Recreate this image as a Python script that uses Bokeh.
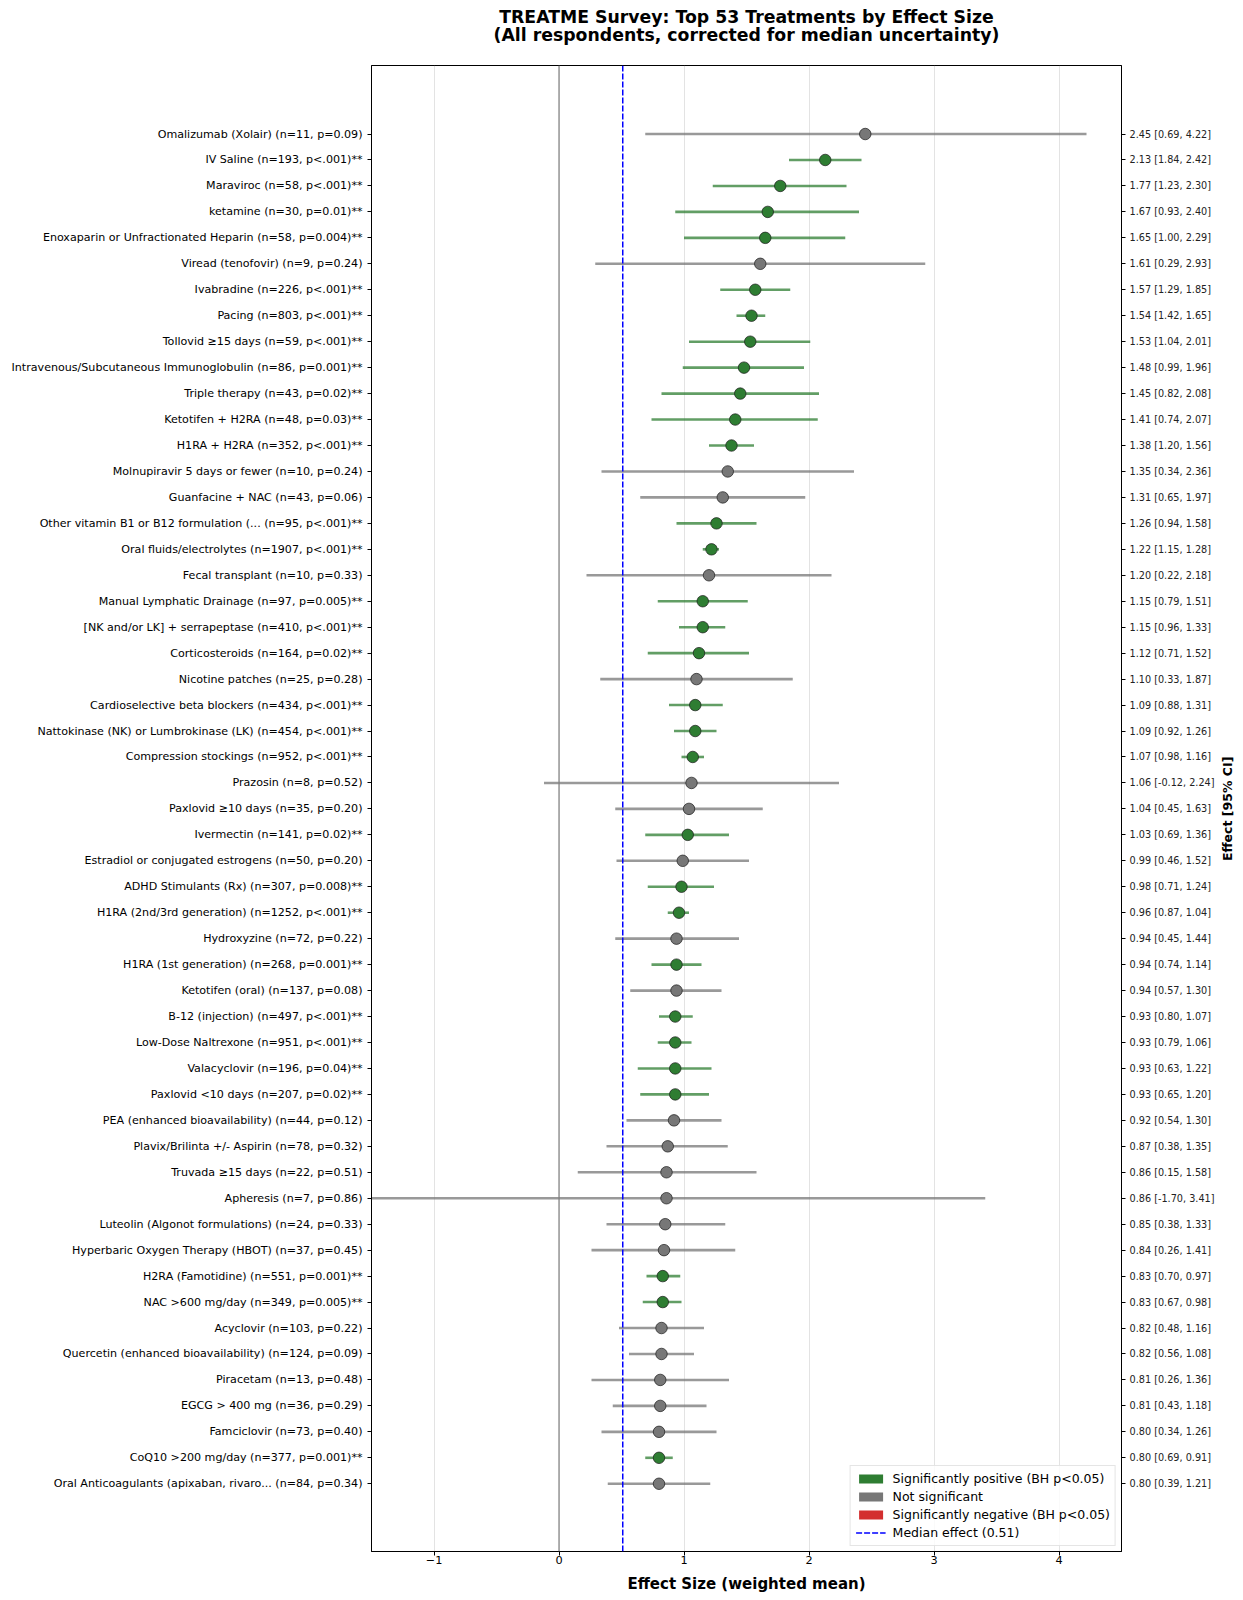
import math
from bokeh.plotting import figure
from bokeh.models import (Range1d, FixedTicker, LinearAxis, Span, Legend,
                          LegendItem, ColumnDataSource)
from bokeh.embed import file_html
from bokeh.resources import INLINE

# ---------------- data ----------------
treatments = [
    "Omalizumab (Xolair) (n=11, p=0.09)",
    "IV Saline (n=193, p<.001)**",
    "Maraviroc (n=58, p<.001)**",
    "ketamine (n=30, p=0.01)**",
    "Enoxaparin or Unfractionated Heparin (n=58, p=0.004)**",
    "Viread (tenofovir) (n=9, p=0.24)",
    "Ivabradine (n=226, p<.001)**",
    "Pacing (n=803, p<.001)**",
    "Tollovid \u226515 days (n=59, p<.001)**",
    "Intravenous/Subcutaneous Immunoglobulin (n=86, p=0.001)**",
    "Triple therapy (n=43, p=0.02)**",
    "Ketotifen + H2RA (n=48, p=0.03)**",
    "H1RA + H2RA (n=352, p<.001)**",
    "Molnupiravir 5 days or fewer (n=10, p=0.24)",
    "Guanfacine + NAC (n=43, p=0.06)",
    "Other vitamin B1 or B12 formulation (... (n=95, p<.001)**",
    "Oral fluids/electrolytes (n=1907, p<.001)**",
    "Fecal transplant (n=10, p=0.33)",
    "Manual Lymphatic Drainage (n=97, p=0.005)**",
    "[NK and/or LK] + serrapeptase (n=410, p<.001)**",
    "Corticosteroids (n=164, p=0.02)**",
    "Nicotine patches (n=25, p=0.28)",
    "Cardioselective beta blockers (n=434, p<.001)**",
    "Nattokinase (NK) or Lumbrokinase (LK) (n=454, p<.001)**",
    "Compression stockings (n=952, p<.001)**",
    "Prazosin (n=8, p=0.52)",
    "Paxlovid \u226510 days (n=35, p=0.20)",
    "Ivermectin (n=141, p=0.02)**",
    "Estradiol or conjugated estrogens (n=50, p=0.20)",
    "ADHD Stimulants (Rx) (n=307, p=0.008)**",
    "H1RA (2nd/3rd generation) (n=1252, p<.001)**",
    "Hydroxyzine (n=72, p=0.22)",
    "H1RA (1st generation) (n=268, p=0.001)**",
    "Ketotifen (oral) (n=137, p=0.08)",
    "B-12 (injection) (n=497, p<.001)**",
    "Low-Dose Naltrexone (n=951, p<.001)**",
    "Valacyclovir (n=196, p=0.04)**",
    "Paxlovid <10 days (n=207, p=0.02)**",
    "PEA (enhanced bioavailability) (n=44, p=0.12)",
    "Plavix/Brilinta +/- Aspirin (n=78, p=0.32)",
    "Truvada \u226515 days (n=22, p=0.51)",
    "Apheresis (n=7, p=0.86)",
    "Luteolin (Algonot formulations) (n=24, p=0.33)",
    "Hyperbaric Oxygen Therapy (HBOT) (n=37, p=0.45)",
    "H2RA (Famotidine) (n=551, p=0.001)**",
    "NAC >600 mg/day (n=349, p=0.005)**",
    "Acyclovir (n=103, p=0.22)",
    "Quercetin (enhanced bioavailability) (n=124, p=0.09)",
    "Piracetam (n=13, p=0.48)",
    "EGCG > 400 mg (n=36, p=0.29)",
    "Famciclovir (n=73, p=0.40)",
    "CoQ10 >200 mg/day (n=377, p=0.001)**",
    "Oral Anticoagulants (apixaban, rivaro... (n=84, p=0.34)",
]
effects = [2.45, 2.13, 1.77, 1.67, 1.65, 1.61, 1.57, 1.54, 1.53, 1.48, 1.45, 1.41,
           1.38, 1.35, 1.31, 1.26, 1.22, 1.20, 1.15, 1.15, 1.12, 1.10, 1.09, 1.09,
           1.07, 1.06, 1.04, 1.03, 0.99, 0.98, 0.96, 0.94, 0.94, 0.94, 0.93, 0.93,
           0.93, 0.93, 0.92, 0.87, 0.86, 0.86, 0.85, 0.84, 0.83, 0.83, 0.82, 0.82,
           0.81, 0.81, 0.80, 0.80, 0.80]
ci_low = [0.69, 1.84, 1.23, 0.93, 1.00, 0.29, 1.29, 1.42, 1.04, 0.99, 0.82, 0.74,
          1.20, 0.34, 0.65, 0.94, 1.15, 0.22, 0.79, 0.96, 0.71, 0.33, 0.88, 0.92,
          0.98, -0.12, 0.45, 0.69, 0.46, 0.71, 0.87, 0.45, 0.74, 0.57, 0.80, 0.79,
          0.63, 0.65, 0.54, 0.38, 0.15, -1.70, 0.38, 0.26, 0.70, 0.67, 0.48, 0.56,
          0.26, 0.43, 0.34, 0.69, 0.39]
ci_high = [4.22, 2.42, 2.30, 2.40, 2.29, 2.93, 1.85, 1.65, 2.01, 1.96, 2.08, 2.07,
           1.56, 2.36, 1.97, 1.58, 1.28, 2.18, 1.51, 1.33, 1.52, 1.87, 1.31, 1.26,
           1.16, 2.24, 1.63, 1.36, 1.52, 1.24, 1.04, 1.44, 1.14, 1.30, 1.07, 1.06,
           1.22, 1.20, 1.30, 1.35, 1.58, 3.41, 1.33, 1.41, 0.97, 0.98, 1.16, 1.08,
           1.36, 1.18, 1.26, 0.91, 1.21]
status = ["pos" if t.endswith("**") else "ns" for t in treatments]
median_effect = 0.51
zero_effect = 0
x_ticks = [-1, 0, 1, 2, 3, 4]
title_lines = ["TREATME Survey: Top 53 Treatments by Effect Size",
               "(All respondents, corrected for median uncertainty)"]
right_title = "Effect [95% CI]"

# ---------------- styling ----------------
FONT = "DejaVu Sans"
dot_colors = {"pos": "#2e7d32", "ns": "#777777", "neg": "#d32f2f"}
MEDIAN_DASH = "6 2"
X_START, X_END = -1.5, 4.5
FRAME_W, FRAME_H = 750, 1486

n = len(treatments)
ypos = [n - 1 - i for i in range(n)]
right_labels = [f"{e:.2f} [{lo:.2f}, {hi:.2f}]" for e, lo, hi in zip(effects, ci_low, ci_high)]
Y_START, Y_END = -2.61, n - 1 + 2.64

src = ColumnDataSource(dict(
    y=ypos, effect=effects, lo=ci_low, hi=ci_high,
    color=[dot_colors[s] for s in status],
))

p = figure(
    frame_width=FRAME_W, frame_height=FRAME_H,
    x_range=Range1d(X_START, X_END), y_range=Range1d(Y_START, Y_END),
    output_backend="svg", toolbar_location=None, title=None,
    min_border_left=371, min_border_right=118, min_border_top=65, min_border_bottom=45,
    background_fill_color="white", border_fill_color="white",
)

p.outline_line_color = "black"
p.outline_line_width = 1

# grid
p.ygrid.visible = False
p.xgrid.ticker = FixedTicker(ticks=x_ticks)
p.xgrid.grid_line_color = "#b0b0b0"
p.xgrid.grid_line_alpha = 0.35

# reference lines
p.add_layout(Span(location=zero_effect, dimension="height", line_color="#808080",
                  line_width=1.2))
p.add_layout(Span(location=median_effect, dimension="height", line_color="blue",
                  line_width=1.5, line_dash=MEDIAN_DASH))

# error bars and points
p.segment(x0="lo", y0="y", x1="hi", y1="y", line_color="color", line_width=2.6,
          line_alpha=0.75, source=src)
p.scatter(x="effect", y="y", size=11.5, fill_color="color", line_color="#1a1a1a",
          line_width=0.7, source=src)

# legend proxies (a single NaN row each, so nothing is drawn in the plot)
nan = float("nan")
def proxy_src():
    return ColumnDataSource(dict(left=[nan], right=[nan], top=[nan], bottom=[nan]))
r_pos = p.quad(source=proxy_src(), left="left", right="right", top="top",
               bottom="bottom", fill_color=dot_colors["pos"], line_color=None)
r_ns = p.quad(source=proxy_src(), left="left", right="right", top="top",
              bottom="bottom", fill_color=dot_colors["ns"], line_color=None)
r_neg = p.quad(source=proxy_src(), left="left", right="right", top="top",
               bottom="bottom", fill_color=dot_colors["neg"], line_color=None)
r_med = p.line(x=[nan], y=[nan], line_color="blue", line_width=1.5, line_dash=MEDIAN_DASH)

legend = Legend(items=[
    LegendItem(label="Significantly positive (BH p<0.05)", renderers=[r_pos]),
    LegendItem(label="Not significant", renderers=[r_ns]),
    LegendItem(label="Significantly negative (BH p<0.05)", renderers=[r_neg]),
    LegendItem(label=f"Median effect ({median_effect:.2f})", renderers=[r_med]),
], location="bottom_right")
legend.margin = 5
legend.padding = 5
legend.spacing = 3
legend.glyph_width = 30
legend.glyph_height = 11
legend.label_height = 11
legend.label_standoff = 7
legend.label_text_font = FONT
legend.label_text_font_size = "12.5px"
legend.label_text_color = "black"
legend.background_fill_color = "white"
legend.background_fill_alpha = 0.8
legend.border_line_color = "#cccccc"
legend.border_line_width = 1
p.add_layout(legend, "center")

# x axis
xa = p.xaxis[0]
xa.ticker = FixedTicker(ticks=x_ticks)
xa.major_label_overrides = {t: str(t).replace("-", "\u2212") for t in x_ticks}
xa.axis_label = "Effect Size (weighted mean)"
xa.axis_label_text_font = FONT
xa.axis_label_text_font_size = "15px"
xa.axis_label_text_font_style = "bold"
xa.axis_label_text_color = "black"
xa.axis_label_standoff = 8
xa.major_label_text_font = FONT
xa.major_label_text_font_size = "11.3px"
xa.major_label_text_color = "black"
xa.major_label_standoff = 0
xa.major_tick_out = 4
xa.major_tick_in = 0
xa.minor_tick_out = 0
xa.minor_tick_in = 0
xa.axis_line_color = "black"

# left axis (treatment labels)
ya = p.yaxis[0]
ya.ticker = FixedTicker(ticks=ypos)
ya.major_label_overrides = {y: t for y, t in zip(ypos, treatments)}
ya.major_label_text_font = FONT
ya.major_label_text_font_size = "11.1px"
ya.major_label_text_color = "black"
ya.major_label_standoff = 5
ya.major_tick_out = 4
ya.major_tick_in = 0
ya.axis_line_color = "black"

# right axis (effect [CI])
ra = LinearAxis(ticker=FixedTicker(ticks=ypos),
                major_label_overrides={y: t for y, t in zip(ypos, right_labels)})
ra.major_label_text_font = FONT
ra.major_label_text_font_size = "9.7px"
ra.major_label_text_color = "#222222"
ra.major_label_standoff = 4
ra.major_tick_out = 4
ra.major_tick_in = 0
ra.axis_line_color = "black"
p.add_layout(ra, "right")

# right-hand title, reading bottom-to-top: a label-only axis whose single
# label starts half its length below the frame's middle
RT_SIZE = 12.5
rt_half_px = 0.5 * 8.41 * RT_SIZE          # half the bold text length
px_per_y = FRAME_H / (Y_END - Y_START)
rt_tick = round((Y_START + Y_END) / 2 - rt_half_px / px_per_y, 3)
ra2 = LinearAxis(ticker=FixedTicker(ticks=[rt_tick]),
                 major_label_overrides={rt_tick: right_title},
                 major_label_orientation=math.pi / 2)
ra2.major_label_text_font = FONT
ra2.major_label_text_font_size = f"{RT_SIZE}px"
ra2.major_label_text_font_style = "bold"
ra2.major_label_text_color = "black"
ra2.major_label_standoff = 10
ra2.major_tick_out = 0
ra2.major_tick_in = 0
ra2.minor_tick_out = 0
ra2.minor_tick_in = 0
ra2.axis_line_color = None
p.add_layout(ra2, "right")

# two-line title as label-only axes above the frame (inner line first)
def title_axis(text, standoff):
    ax = LinearAxis(ticker=FixedTicker(ticks=[]), axis_label=text)
    ax.axis_line_color = None
    ax.major_tick_out = 0
    ax.major_tick_in = 0
    ax.minor_tick_out = 0
    ax.minor_tick_in = 0
    ax.major_label_standoff = 0
    ax.axis_label_standoff = standoff
    ax.axis_label_text_font = FONT
    ax.axis_label_text_font_size = "17.3px"
    ax.axis_label_text_font_style = "bold"
    ax.axis_label_text_color = "black"
    return ax

p.add_layout(title_axis(title_lines[1], 21), "above")
p.add_layout(title_axis(title_lines[0], -5), "above")

open("out.html", "w").write(file_html(p, INLINE))
